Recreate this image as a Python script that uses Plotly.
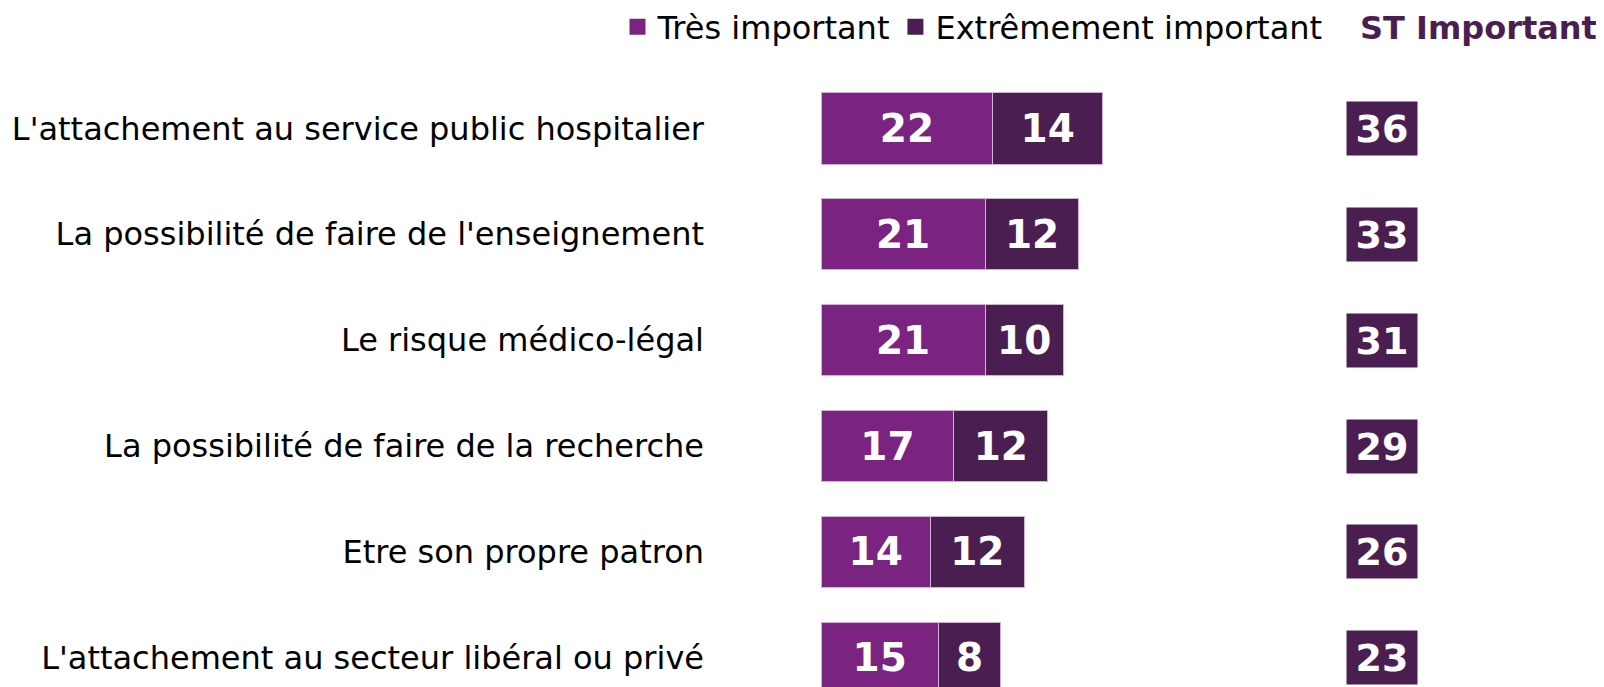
import plotly.graph_objects as go

# Data
categories = [
    "L'attachement au service public hospitalier",
    "La possibilité de faire de l'enseignement",
    "Le risque médico-légal",
    "La possibilité de faire de la recherche",
    "Etre son propre patron",
    "L'attachement au secteur libéral ou privé",
]
tres_important = [22, 21, 21, 17, 14, 15]
extremement_important = [14, 12, 10, 12, 12, 8]
st_important = [36, 33, 31, 29, 26, 23]

COLOR_TRES = "#7b2380"
COLOR_EXTR = "#4b1e52"
FONT = "DejaVu Sans"

# plot area geometry (page body adds an 8px offset)
LEFT = 812.7
TOP = 55
PX_PER_UNIT = 7.82

fig = go.Figure()

for name, vals, color in [
    ("Très important", tres_important, COLOR_TRES),
    ("Extrêmement important", extremement_important, COLOR_EXTR),
]:
    fig.add_trace(
        go.Bar(
            y=categories,
            x=vals,
            orientation="h",
            name=name,
            marker=dict(color=color, line=dict(color="#d2b2d6", width=1)),
            text=vals,
            textposition="inside",
            insidetextanchor="middle",
            textfont=dict(family=FONT, size=39, color="white", weight="bold"),
            showlegend=False,
        )
    )

# legend entries with larger square symbols
for name, color in [("Très important", COLOR_TRES), ("Extrêmement important", COLOR_EXTR)]:
    fig.add_trace(
        go.Scatter(
            x=[None],
            y=[None],
            mode="markers",
            name=name,
            marker=dict(symbol="square", size=16, color=color),
        )
    )

# ST Important boxes
for cat, val in zip(categories, st_important):
    fig.add_annotation(
        x=71.8,
        y=cat,
        xref="x",
        yref="y",
        text=str(val),
        showarrow=False,
        font=dict(family=FONT, size=38, color="white", weight="bold"),
        bgcolor=COLOR_EXTR,
        width=70,
        height=53,
        borderpad=0,
    )

plot_w = 1604 - LEFT
fig.add_annotation(
    x=(1470.5 - LEFT) / plot_w,
    y=1 + (TOP - 20) / (687 - TOP),
    xref="paper",
    yref="paper",
    xanchor="center",
    yanchor="middle",
    text="ST Important",
    showarrow=False,
    font=dict(family=FONT, size=32, color=COLOR_EXTR, weight="bold"),
)

fig.update_layout(
    width=1604,
    height=687,
    margin=dict(l=LEFT, r=0, t=TOP, b=0),
    barmode="stack",
    bargap=0.325,
    plot_bgcolor="white",
    paper_bgcolor="white",
    font=dict(family=FONT, color="black"),
    legend=dict(
        orientation="h",
        traceorder="normal",
        xref="container",
        yref="container",
        x=609.5 / 1604,
        y=1 - 19 / 687,
        xanchor="left",
        yanchor="middle",
        font=dict(family=FONT, size=32, color="black"),
        bgcolor="rgba(0,0,0,0)",
    ),
    xaxis=dict(
        range=[0, plot_w / PX_PER_UNIT],
        visible=False,
        fixedrange=True,
    ),
    yaxis=dict(
        categoryorder="array",
        categoryarray=categories,
        range=[5.351, -0.617],
        showgrid=False,
        zeroline=False,
        showline=False,
        ticks="",
        ticklabelstandoff=116,
        tickfont=dict(family=FONT, size=32, color="black"),
    ),
)

fig.write_html("out.html")
